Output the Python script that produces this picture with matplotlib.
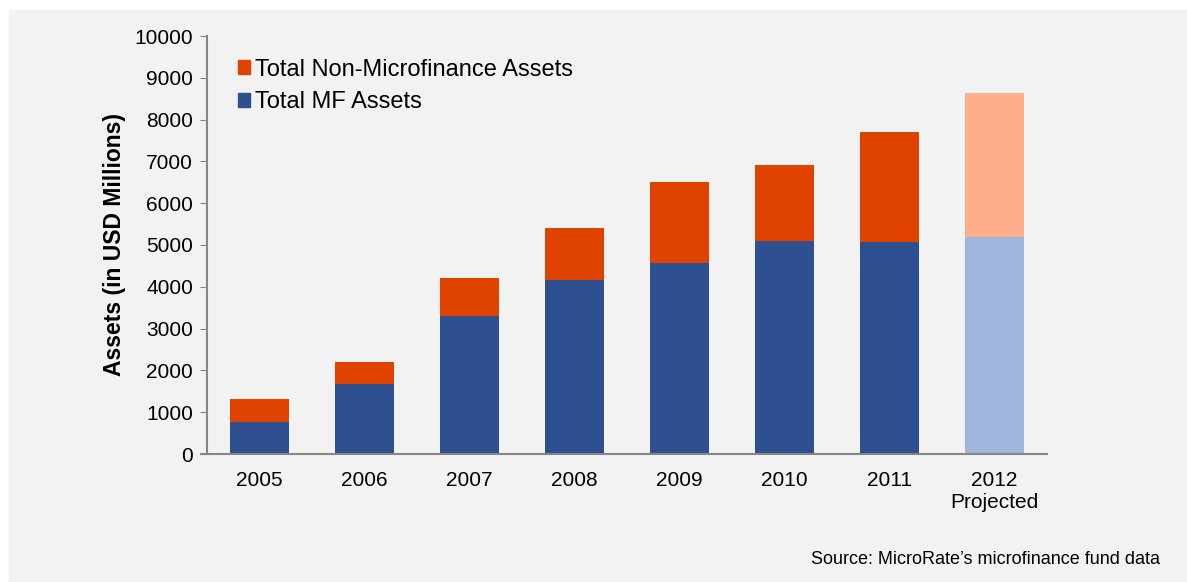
import matplotlib.pyplot as plt
from matplotlib.patches import Patch, Rectangle

plt.rcParams['font.family'] = ['Liberation Sans', 'DejaVu Sans']

# dados (USD milhões)
anos = ['2005', '2006', '2007', '2008', '2009', '2010', '2011', '2012\nProjected']
mf = [770, 1670, 3300, 4165, 4575, 5095, 5065, 5185]
total = [1310, 2200, 4210, 5405, 6505, 6910, 7700, 8635]
nao_mf = [t - m for t, m in zip(total, mf)]

azul, laranja = '#2e5090', '#e04300'
azul_claro, laranja_claro = '#9fb5de', '#ffae8c'
cinza = '#f2f2f2'

fig = plt.figure(figsize=(11.87, 5.82), dpi=100)
fig.patch.set_facecolor('white')
fig.patches.append(Rectangle((9/1187, 0), 1 - 9/1187, 1 - 10/582,
                             transform=fig.transFigure, color=cinza, zorder=-1))

ax = fig.add_axes([207/1187, 128/582, 840/1187, 418/582])
ax.set_facecolor(cinza)

x = range(len(anos))
cores_mf = [azul] * 7 + [azul_claro]
cores_nm = [laranja] * 7 + [laranja_claro]
ax.bar(x, mf, width=0.57, color=cores_mf)
ax.bar(x, nao_mf, bottom=mf, width=0.57, color=cores_nm)

ax.set_xlim(-0.5, 7.5)
ax.set_ylim(0, 10000)
ax.set_yticks(range(0, 10001, 1000))
ax.set_xticks(list(x))
ax.set_xticklabels(anos, fontsize=15)
ax.tick_params(axis='y', labelsize=15, length=5, color='#868686', pad=5)
ax.tick_params(axis='x', length=0, pad=12)
for s in ['top', 'right']:
    ax.spines[s].set_visible(False)
for s in ['left', 'bottom']:
    ax.spines[s].set_color('#868686')
    ax.spines[s].set_linewidth(1.5)
ax.spines['bottom'].set_bounds(-0.56, 7.5)

ax.set_ylabel('Assets (in USD Millions)', fontsize=16.5, fontweight='bold', labelpad=6)

handles = [Patch(color=laranja), Patch(color=azul)]
ax.legend(handles, ['Total Non-Microfinance Assets', 'Total MF Assets'],
          loc='upper left', bbox_to_anchor=(0.037, 0.946), frameon=False,
          fontsize=17, handlelength=0.5, handleheight=0.5, handletextpad=0.2,
          labelspacing=0.46, borderpad=0, borderaxespad=0)

fig.text(1160/1187, 1 - 560/582, "Source: MicroRate\u2019s microfinance fund data",
         ha='right', va='center', fontsize=13)

fig.savefig('out.png', dpi=100, facecolor=fig.get_facecolor())
